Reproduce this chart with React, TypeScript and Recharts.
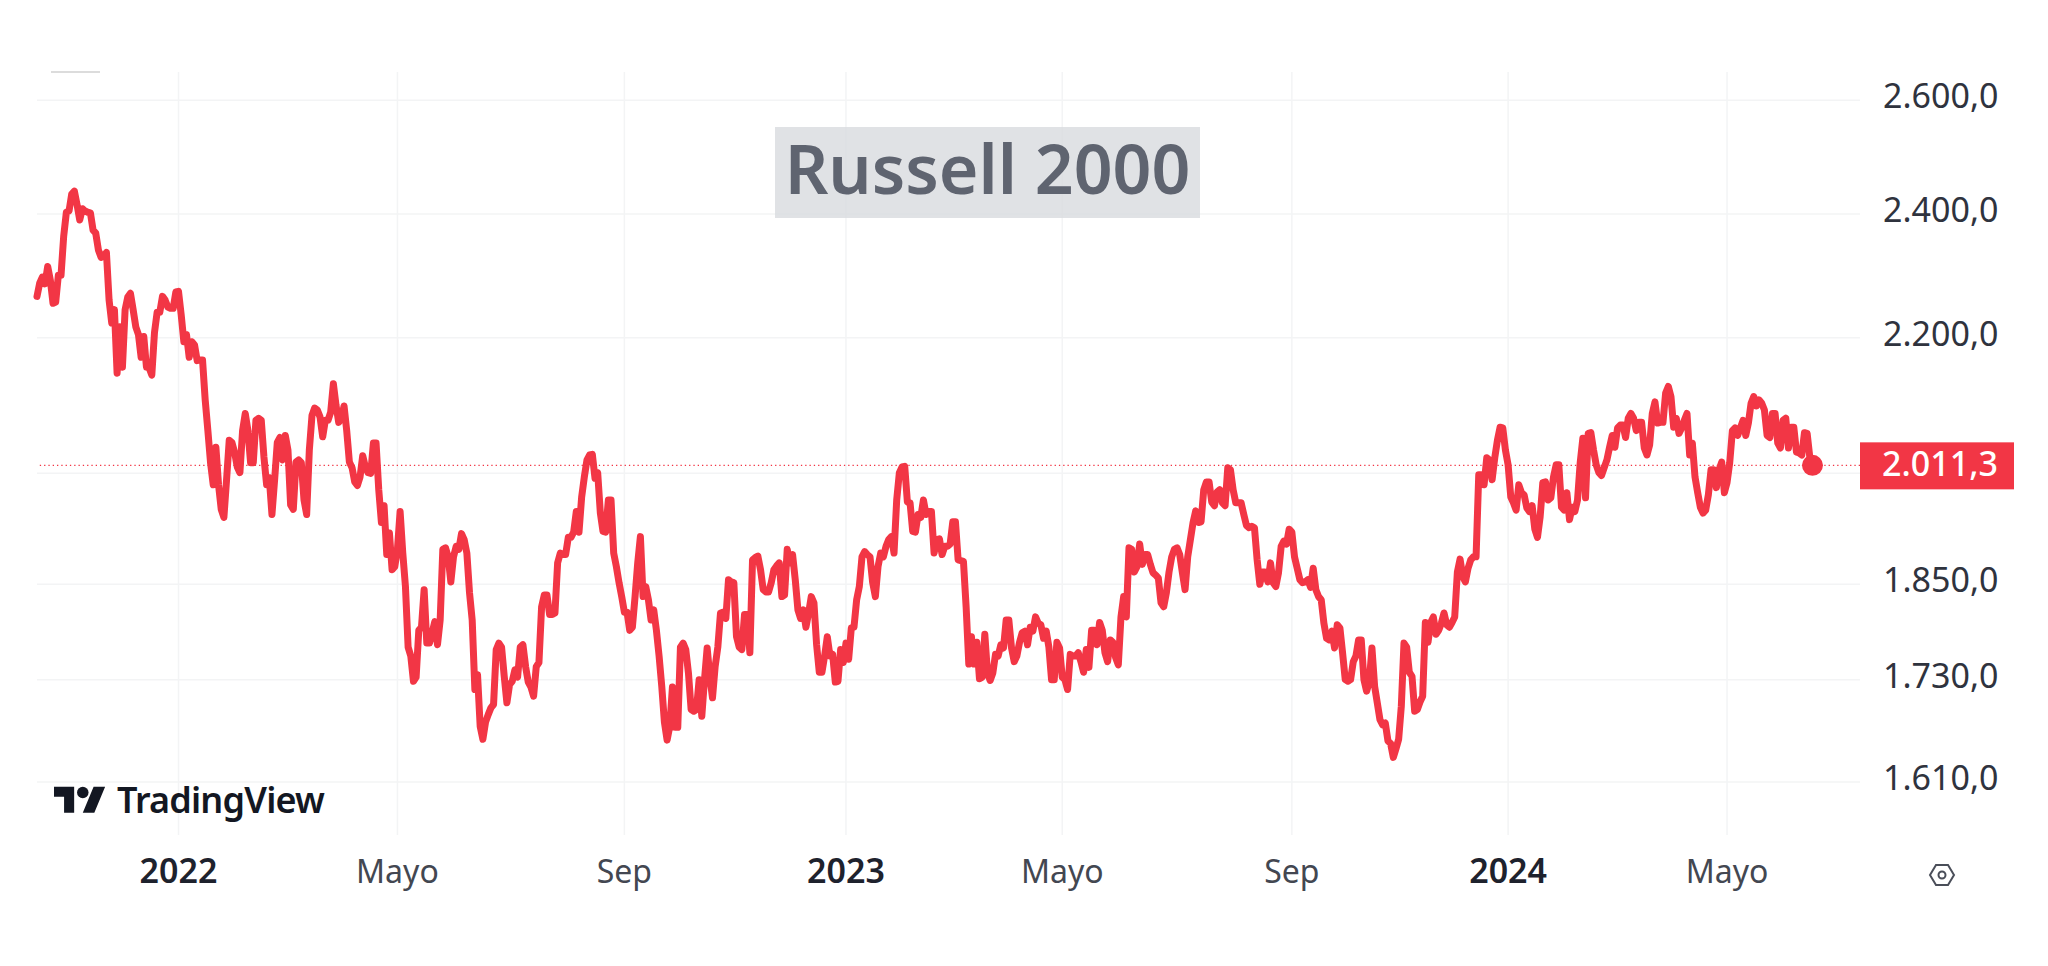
import React from "react";
import { LineChart, Line, XAxis, YAxis, CartesianGrid, ReferenceLine, ReferenceDot } from "recharts";

// daily closes, one per trading session
const closes = [
  2265, 2286, 2296, 2285, 2313, 2291, 2254, 2256, 2299, 2299,
  2363, 2403, 2405, 2434, 2439, 2416, 2390, 2409, 2405, 2403,
  2402, 2373, 2368, 2340, 2328, 2331, 2336, 2259, 2223, 2244,
  2146, 2217, 2155, 2244, 2264, 2270, 2244, 2217, 2205, 2170,
  2202, 2155, 2154, 2143, 2208, 2240, 2240, 2265, 2259, 2248,
  2246, 2246, 2272, 2273, 2236, 2194, 2205, 2170, 2194, 2189,
  2165, 2166, 2166, 2106, 2061, 2015, 1984, 2037, 1984, 1950,
  1939, 1991, 2047, 2044, 2030, 2009, 2001, 2061, 2086, 2061,
  2015, 2015, 2076, 2079, 2076, 2023, 1984, 1994, 1943, 1991,
  2044, 2051, 2019, 2054, 2033, 1956, 1950, 2016, 2019, 2015,
  1963, 1943, 2033, 2083, 2094, 2091, 2081, 2052, 2076, 2076,
  2088, 2130, 2098, 2073, 2079, 2097, 2061, 2016, 2008, 1988,
  1983, 1995, 2025, 2009, 2001, 2000, 2043, 2043, 1977, 1932,
  1955, 1889, 1918, 1869, 1873, 1896, 1947, 1891, 1847, 1770,
  1759, 1728, 1733, 1791, 1795, 1843, 1775, 1775, 1788, 1802,
  1773, 1804, 1896, 1898, 1886, 1853, 1886, 1900, 1896, 1917,
  1909, 1891, 1839, 1804, 1718, 1736, 1674, 1659, 1679, 1688,
  1696, 1700, 1767, 1775, 1770, 1734, 1702, 1724, 1728, 1742,
  1733, 1770, 1773, 1746, 1727, 1721, 1710, 1746, 1751, 1821,
  1836, 1836, 1811, 1811, 1813, 1878, 1891, 1889, 1889, 1912,
  1912, 1919, 1947, 1919, 1967, 1995, 2019, 2026, 2027, 1993,
  2001, 1945, 1920, 1919, 1963, 1963, 1891, 1873, 1852, 1834,
  1814, 1814, 1791, 1795, 1834, 1878, 1913, 1834, 1847, 1830,
  1804, 1817, 1791, 1759, 1722, 1679, 1658, 1674, 1721, 1673,
  1673, 1770, 1775, 1767, 1738, 1694, 1692, 1694, 1730, 1686,
  1730, 1769, 1734, 1708, 1746, 1770, 1813, 1814, 1806, 1856,
  1853, 1852, 1783, 1770, 1767, 1811, 1811, 1763, 1882, 1885,
  1887, 1869, 1843, 1840, 1840, 1852, 1869, 1874, 1878, 1834,
  1836, 1896, 1878, 1889, 1856, 1817, 1806, 1817, 1795, 1813,
  1834, 1826, 1773, 1739, 1739, 1759, 1783, 1759, 1761, 1727,
  1728, 1767, 1751, 1775, 1755, 1794, 1795, 1830, 1847, 1886,
  1893, 1889, 1886, 1852, 1834, 1873, 1891, 1886, 1900, 1909,
  1913, 1891, 1963, 2001, 2009, 2010, 1960, 1959, 1920, 1919,
  1943, 1939, 1963, 1943, 1947, 1947, 1891, 1909, 1910, 1889,
  1900, 1900, 1903, 1933, 1933, 1882, 1881, 1880, 1821, 1749,
  1783, 1749, 1776, 1731, 1733, 1786, 1738, 1729, 1738, 1761,
  1759, 1773, 1769, 1804, 1804, 1769, 1752, 1759, 1776, 1788,
  1790, 1773, 1795, 1790, 1808, 1800, 1798, 1781, 1790, 1770,
  1730, 1730, 1776, 1769, 1733, 1730, 1718, 1761, 1759, 1759,
  1763, 1752, 1739, 1767, 1745, 1791, 1791, 1773, 1801, 1791,
  1763, 1752, 1779, 1776, 1757, 1748, 1808, 1834, 1808, 1898,
  1896, 1866, 1873, 1903, 1876, 1889, 1889, 1876, 1865, 1862,
  1858, 1826, 1821, 1839, 1866, 1886, 1896, 1898, 1889, 1865,
  1843, 1886, 1909, 1932, 1948, 1932, 1933, 1977, 1988, 1988,
  1960, 1955, 1974, 1977, 1959, 1955, 2008, 2005, 1977, 1959,
  1959, 1959, 1943, 1928, 1925, 1927, 1925, 1882, 1850, 1866,
  1866, 1853, 1878, 1852, 1847, 1865, 1900, 1907, 1903, 1923,
  1919, 1886, 1871, 1856, 1852, 1853, 1856, 1846, 1871, 1843,
  1834, 1830, 1800, 1781, 1779, 1790, 1769, 1798, 1794, 1763,
  1730, 1728, 1730, 1752, 1759, 1779, 1779, 1730, 1716, 1727,
  1769, 1722, 1702, 1682, 1676, 1678, 1657, 1654, 1638, 1648,
  1659, 1698, 1775, 1770, 1739, 1734, 1692, 1694, 1703, 1710,
  1801, 1776, 1801, 1808, 1786, 1791, 1800, 1813, 1798, 1795,
  1801, 1808, 1866, 1883, 1860, 1853, 1871, 1882, 1886, 1886,
  1998, 1998, 1984, 2022, 2019, 1991, 2022, 2047, 2066, 2065,
  2033, 2012, 1967, 1959, 1949, 1984, 1973, 1970, 1952, 1947,
  1955, 1923, 1912, 1940, 1987, 1988, 1963, 1966, 1995, 2012,
  2012, 1953, 1949, 1973, 1936, 1953, 1947, 1963, 2015, 2050,
  1966, 2057, 2058, 2033, 2012, 2001, 1997, 2008, 2019, 2037,
  2054, 2037, 2065, 2069, 2069, 2051, 2079, 2086, 2079, 2061,
  2073, 2073, 2036, 2026, 2040, 2086, 2103, 2072, 2073, 2073,
  2116, 2126, 2111, 2066, 2079, 2057, 2065, 2076, 2086, 2026,
  2043, 1995, 1973, 1953, 1945, 1949, 1970, 2005, 2005, 1980,
  2005, 2016, 1973, 1987, 2015, 2061, 2065, 2054, 2065, 2076,
  2054, 2072, 2101, 2111, 2097, 2106, 2101, 2091, 2054, 2051,
  2086, 2086, 2043, 2036, 2076, 2079, 2036, 2066, 2066, 2030,
  2029, 2026, 2058, 2057, 2023, 2011.3,
];

const timeTicks = [53, 135, 220, 303, 384, 470, 551, 633];
const timeLabels = ["2022", "Mayo", "Sep", "2023", "Mayo", "Sep", "2024", "Mayo"];
const priceTicks = [1610, 1730, 1850, 2000, 2200, 2400, 2600];
const priceLabels = ["1.610,0", "1.730,0", "1.850,0", "", "2.200,0", "2.400,0", "2.600,0"];
const lastPrice = 2011.3;
const lastPriceLabel = "2.011,3";

const data = closes.map((close, session) => ({ session, close }));

const RED = "#f23645";
const FONT = "'Noto Sans', sans-serif";

const TimeTick = ({ x, y, payload }: any) => {
  const label = timeLabels[timeTicks.indexOf(payload.value)];
  const isYear = /^\d+$/.test(label);
  return (
    <text x={x} y={y + 40} textAnchor="middle" fontFamily={FONT} fontSize={isYear ? 34 : 32} fontWeight={isYear ? 600 : 400} fill={isYear ? "#1e222d" : "#434751"}>
      {label}
    </text>
  );
};

const PriceTick = ({ y, payload }: any) => (
  <text x={1883} y={y + 8} fontFamily={FONT} fontSize={34} fill="#2f333e">
    {priceLabels[priceTicks.indexOf(payload.value)]}
  </text>
);

const PriceTag = ({ viewBox }: any) => (
  <g>
    <rect x={1860} y={viewBox.y - 23} width={154} height={47} fill={RED} />
    <text x={1940} y={viewBox.y + 11} textAnchor="middle" fontFamily={FONT} fontSize={34} fontWeight={500} fill="#fff">
      {lastPriceLabel}
    </text>
  </g>
);

export default function App() {
  return (
    <div style={{ position: "absolute", left: 0, top: 0, width: 2048, height: 966, background: "#fff", overflow: "hidden" }}>
      <LineChart width={2048} height={966} data={data} margin={{ top: 72, right: 0, bottom: 0, left: 37 }}>
        <CartesianGrid stroke="#f3f4f5" strokeWidth={1.5} horizontalValues={priceTicks} verticalValues={timeTicks} />
        <XAxis
          dataKey="session"
          type="number"
          domain={[0, 682.8]}
          ticks={timeTicks}
          interval={0}
          height={131}
          axisLine={false}
          tickLine={false}
          tick={<TimeTick />}
        />
        <YAxis
          orientation="right"
          scale="log"
          domain={[1551, 2652]}
          allowDataOverflow
          ticks={priceTicks}
          interval={0}
          width={188}
          axisLine={false}
          tickLine={false}
          tick={<PriceTick />}
        />
        <ReferenceLine y={lastPrice} stroke={RED} strokeWidth={1.2} strokeDasharray="1.3 3" label={<PriceTag />} />
        <Line dataKey="close" type="linear" stroke={RED} strokeWidth={7} strokeLinejoin="round" strokeLinecap="round" dot={false} isAnimationActive={false} />
        <ReferenceDot x={665} y={lastPrice} r={10.5} fill={RED} stroke="none" />
      </LineChart>

      <div style={{ position: "absolute", left: 775, top: 127, width: 425, height: 91, background: "rgba(216,219,222,0.8)", color: "#5f6470", fontFamily: FONT, fontWeight: 600, fontSize: 68, lineHeight: "82px", textAlign: "center", whiteSpace: "nowrap" }}>
        Russell 2000
      </div>

      <svg style={{ position: "absolute", left: 0, top: 0 }} width={2048} height={966}>
        <line x1={51} y1={72} x2={100} y2={72} stroke="#dcdcdc" strokeWidth={2} />
        <g transform="translate(54,781) scale(1.44)" fill="#131722">
          <path d="M14 22H7V11H0V4h14v18zM28 22h-8l7.5-18h8L28 22z" />
          <circle cx="20" cy="8" r="4" />
        </g>
        <text x={117} y={813} fontFamily={FONT} fontSize={36} fontWeight={600} fill="#131722" letterSpacing={-0.8}>TradingView</text>
        <path d="M1930 875 L1936 865 L1948 865 L1954 875 L1948 885 L1936 885 Z" fill="none" stroke="#4a4e59" strokeWidth={2} />
        <circle cx={1942} cy={875} r={3.5} fill="none" stroke="#4a4e59" strokeWidth={2} />
      </svg>
    </div>
  );
}
